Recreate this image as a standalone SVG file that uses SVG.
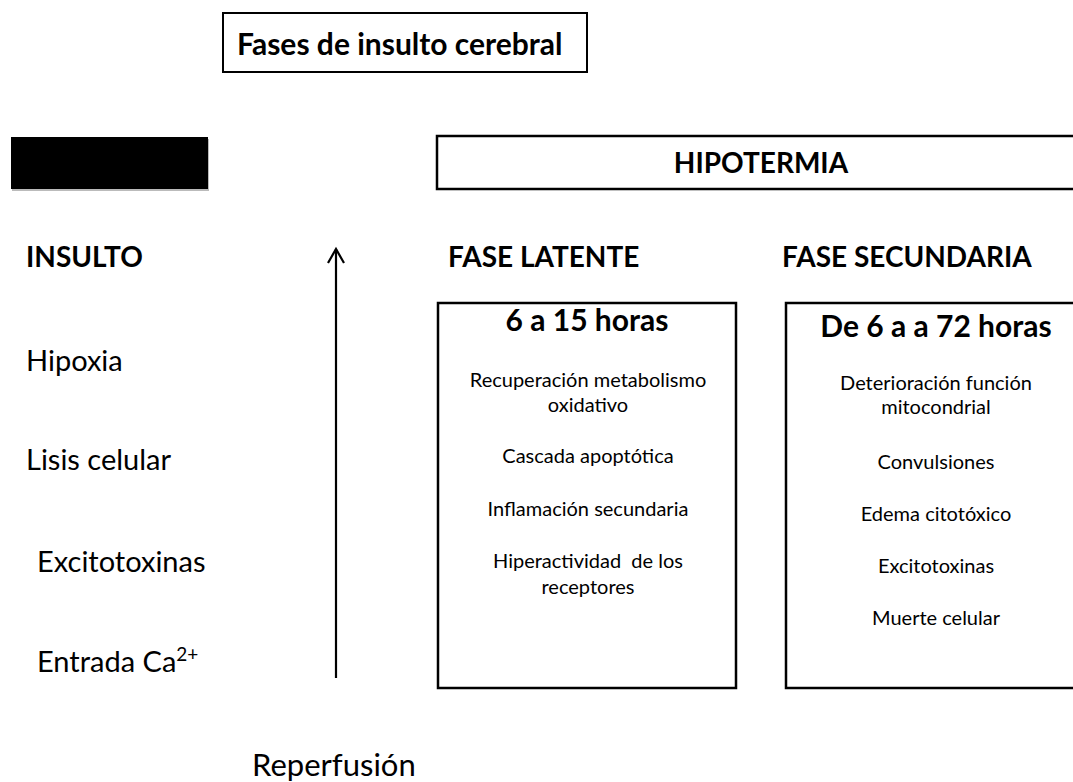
<svg xmlns="http://www.w3.org/2000/svg" width="1073" height="782" viewBox="0 0 1073 782">
<style>
text{font-family:Lato,"Liberation Sans",sans-serif;fill:#000}
.b{font-weight:bold}
.box{fill:#fff;stroke:#000;stroke-width:2.5}
.sh{fill:#bbb}
.item{font-size:20px;text-anchor:middle}
.hrs{font-size:30px;font-weight:bold;text-anchor:middle}
.left{font-size:29px}
.head{font-size:28px;font-weight:bold}
</style>
<defs>
<marker id="ah" markerWidth="20" markerHeight="20" refX="16" refY="10" orient="auto" markerUnits="userSpaceOnUse">
<path d="M2,2 L16,10 L2,18" fill="none" stroke="#000" stroke-width="2.2"/>
</marker>
</defs>
<rect width="1073" height="782" fill="#fff"/>
<g id="title">
<rect x="223" y="13" width="364" height="59" fill="#fff" stroke="#000" stroke-width="2"/>
<text x="237" y="55" class="b" font-size="30">Fases de insulto cerebral</text>
</g>
<g id="black-bar">
<rect x="12" y="139" width="197" height="52" class="sh"/>
<rect x="11" y="137" width="197" height="52" fill="#000"/>
</g>
<g id="hipotermia">
<rect x="437" y="136" width="660" height="53" class="box"/>
<text x="761" y="173" class="b" font-size="28" text-anchor="middle">HIPOTERMIA</text>
</g>
<g id="insulto">
<text x="26" y="267" class="head">INSULTO</text>
<text x="26" y="371" class="left">Hipoxia</text>
<text x="26" y="470" class="left">Lisis celular</text>
<text x="37" y="572" class="left">Excitotoxinas</text>
<text x="37" y="672" class="left">Entrada Ca<tspan font-size="19" dy="-11">2+</tspan></text>
</g>
<g id="connectors">
<line x1="336" y1="678" x2="336" y2="249" stroke="#000" stroke-width="2.2" marker-end="url(#ah)"/>
</g>
<g id="reperfusion">
<text x="252" y="776" class="left" font-size="31" style="font-size:31px">Reperfusión</text>
</g>
<g id="fase-latente">
<text x="448" y="267" class="head">FASE LATENTE</text>
<rect x="438" y="303" width="298" height="385" class="box"/>
<text x="587" y="331" class="hrs">6 a 15 horas</text>
<text x="588" y="387" class="item">Recuperación metabolismo</text>
<text x="588" y="412" class="item">oxidativo</text>
<text x="588" y="463" class="item">Cascada apoptótica</text>
<text x="588" y="516" class="item">Inflamación secundaria</text>
<text x="588" y="568" class="item" xml:space="preserve">Hiperactividad  de los</text>
<text x="588" y="594" class="item">receptores</text>
</g>
<g id="fase-secundaria">
<text x="782" y="267" class="head">FASE SECUNDARIA</text>
<rect x="786" y="303" width="310" height="385" class="box"/>
<text x="936" y="337" class="hrs">De 6 a a 72 horas</text>
<text x="936" y="390" class="item">Deterioración función</text>
<text x="936" y="414" class="item">mitocondrial</text>
<text x="936" y="469" class="item">Convulsiones</text>
<text x="936" y="521" class="item">Edema citotóxico</text>
<text x="936" y="573" class="item">Excitotoxinas</text>
<text x="936" y="625" class="item">Muerte celular</text>
</g>
</svg>
